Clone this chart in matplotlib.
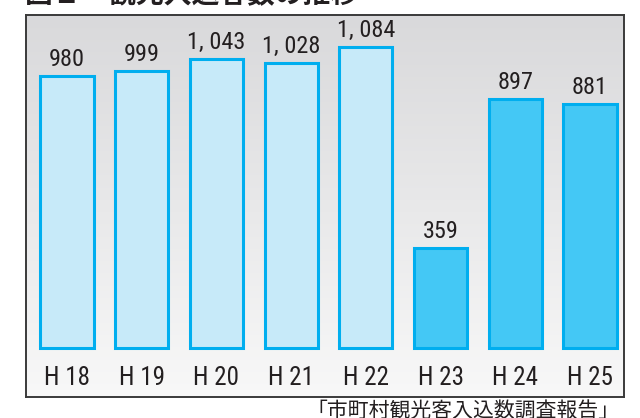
import numpy as np
import matplotlib.pyplot as plt
from matplotlib import font_manager
from matplotlib.colors import LinearSegmentedColormap

# 観光入込客数の推移（千人）
years = ['H18', 'H19', 'H20', 'H21', 'H22', 'H23', 'H24', 'H25']
visitors = [980, 999, 1043, 1028, 1084, 359, 897, 881]
highlight = [False, False, False, False, False, True, True, True]


def pick_narrow():
    fonts = font_manager.fontManager.ttflist
    names = {f.name for f in fonts}
    prefs = ['Liberation Sans Narrow', 'Roboto Condensed', 'Archivo Narrow',
             'PT Sans Narrow', 'Fira Sans Condensed', 'IBM Plex Sans Condensed',
             'Barlow Condensed', 'Encode Sans Condensed', 'Open Sans Condensed',
             'Asap Condensed', 'Saira Condensed', 'Pragati Narrow']
    for p in prefs:
        if p in names:
            return dict(family=p)
    for f in fonts:
        if f.fname.endswith('DejaVuSansCondensed.ttf'):
            return dict(family='DejaVu Sans', fontstretch='condensed')
    for n in sorted(names):
        if ('Condensed' in n or 'Narrow' in n) and 'Bold' not in n:
            return dict(family=n)
    return dict(family='DejaVu Sans')


narrow = pick_narrow()
jp = ['Noto Sans CJK JP', 'DejaVu Sans']

fig = plt.figure(figsize=(6.4, 4.18), dpi=100)
ax = fig.add_axes([26 / 640, 1 - 397 / 418, 598 / 640, 382 / 418])

xmin, xmax = -0.549, 7.455
ymin, ymax = -176, 1200
ax.set_xlim(xmin, xmax)
ax.set_ylim(ymin, ymax)

# 背景のグラデーション
grad = np.linspace(0, 1, 256).reshape(-1, 1)
ax.imshow(grad, cmap=LinearSegmentedColormap.from_list('bg', ['#f8f8f8', '#d9d9db']),
          aspect='auto', origin='lower', extent=[xmin, xmax, ymin, ymax], zorder=0)

x = np.arange(len(years))
fills = ['#44c8f5' if h else '#c7eaf9' for h in highlight]
ax.bar(x, visitors, width=0.71, color=fills, edgecolor='#00aeef',
       linewidth=2.2, zorder=2)

for xi, v in zip(x, visitors):
    ax.text(xi, v + 18, f'{v:,}'.replace(',', ', '), ha='center', va='bottom',
            fontsize=17.5, color='#231f20', zorder=3, **narrow)
    ax.text(xi, -108, years[xi].replace('H', 'H '), ha='center', va='center',
            fontsize=18, color='#231f20', zorder=3, **narrow)

ax.set_xticks([])
ax.set_yticks([])
for sp in ax.spines.values():
    sp.set_color('#3a3a3a')
    sp.set_linewidth(1.4)

fig.text(25 / 640, 1 - 3 / 418, '図１　観光入込客数の推移', family=jp,
         fontsize=20, fontweight='bold', va='baseline', ha='left', color='#231f20')
fig.text(620 / 640, 1 - 411 / 418, '「市町村観光客入込数調査報告」', family=jp,
         fontsize=15, va='center', ha='right', color='#231f20')

fig.savefig('out.png', dpi=100)
